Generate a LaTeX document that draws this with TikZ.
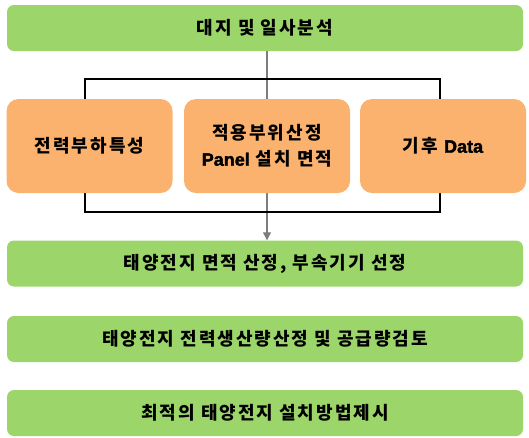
\documentclass[tikz,border=0pt]{standalone}
\usepackage{fontspec}
\newfontfamily\krfont[LetterSpace=11]{Noto Sans CJK KR}
\newfontfamily\latfont[BoldFeatures={FakeBold=2}]{Liberation Sans}
\usetikzlibrary{shapes,arrows.meta}

\definecolor{stepgreen}{RGB}{156,214,106}
\definecolor{factororange}{RGB}{251,178,110}
\definecolor{flowgray}{RGB}{125,125,125}

\tikzset{
  stepbar/.style={shape=rectangle,fill=stepgreen,rounded corners=7pt,minimum width=516pt,minimum height=46pt,align=center,font=\krfont\bfseries\fontsize{18}{21}\selectfont},
  factorbox/.style={shape=rectangle,fill=factororange,rounded corners=12pt,minimum width=166pt,minimum height=94pt,align=center,font=\krfont\bfseries\fontsize{18}{26}\selectfont},
}

\begin{document}
\begin{tikzpicture}[x=1pt,y=-1pt]
\useasboundingbox (0,0) rectangle (529,437);
\coordinate (bl) at (85,79);
\coordinate (br) at (440,212);
\coordinate (axis) at (267,0);
\node[stepbar] (site) at (265,28) {대지 및 일사분석};
\node[stepbar] (area) at (265,263.5) {태양전지 면적 산정, 부속기기 선정};
\node[stepbar] (yield) at (265,339) {태양전지 전력생산량산정 및 공급량검토};
\node[stepbar] (method) at (265,413) {최적의 태양전지 설치방법제시};

\draw[-{Triangle[length=8pt,width=8pt]},draw=flowgray,fill=flowgray,line width=1.2pt] (site.south -| axis) -- (area.north -| axis);
\draw[black,line width=1.2pt] (bl) rectangle (br);

\node[factorbox] (load) at (89.5,146) {전력부하특성};
\node[factorbox] (panel) at (267,146) {적용부위산정\\{\latfont\bfseries Panel} 설치 면적};
\node[factorbox] (climate) at (443,146) {기후 {\latfont\bfseries Data}};
\end{tikzpicture}
\end{document}
